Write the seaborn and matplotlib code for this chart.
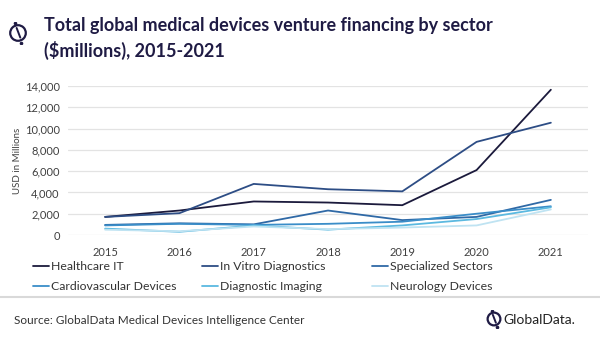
import matplotlib
matplotlib.use("Agg")
import matplotlib.pyplot as plt
import seaborn as sns
import pandas as pd
from matplotlib.patches import Circle
from matplotlib.lines import Line2D

years = ["2015", "2016", "2017", "2018", "2019", "2020", "2021"]
healthcare_it = [1700, 2300, 3150, 3050, 2800, 6100, 13650]
in_vitro = [1700, 2050, 4800, 4300, 4100, 8750, 10550]
specialized = [950, 1100, 1000, 2300, 1400, 1700, 3300]
cardiovascular = [900, 1050, 950, 1050, 1250, 2000, 2700]
diagnostic_imaging = [600, 300, 900, 500, 900, 1500, 2600]
neurology = [500, 350, 800, 550, 700, 900, 2400]

series_names = ["Healthcare IT", "In Vitro Diagnostics", "Specialized Sectors",
                "Cardiovascular Devices", "Diagnostic Imaging", "Neurology Devices"]
series_vals = [healthcare_it, in_vitro, specialized, cardiovascular, diagnostic_imaging, neurology]
colors = ["#1b1a3c", "#2d4d85", "#2f69a6", "#3a8dc8", "#5bb9e0", "#bfe3f2"]

rows = []
for name, vals in zip(series_names, series_vals):
    for i, (y, v) in enumerate(zip(years, vals)):
        rows.append({"idx": i, "year": y, "value": v, "sector": name})
df = pd.DataFrame(rows)

sns.set_theme(style="white")
plt.rcParams["font.family"] = ["Lato", "DejaVu Sans"]

fig = plt.figure(figsize=(6, 3.38), dpi=100)
ax = fig.add_axes([68/600, 1-235/338, (588-68)/600, (235-86)/338])

sns.lineplot(data=df, x="idx", y="value", hue="sector", hue_order=series_names,
             palette=colors, linewidth=1.3, ax=ax, legend=False, sort=False)

ax.set_xlim(-0.5, 6.5)
ax.set_ylim(0, 14000)
ax.set_xticks(range(len(years)))
ax.set_xticklabels(years)
ax.set_yticks(range(0, 14001, 2000))
ax.set_yticklabels([f"{v:,}" for v in range(0, 14001, 2000)])
ax.tick_params(axis="both", labelsize=8, colors="#404040", length=0, pad=6)
ax.tick_params(axis="x", pad=9)
ax.grid(axis="y", color="#e3e3e3", linewidth=0.9)
ax.set_axisbelow(True)
for s in ax.spines.values():
    s.set_visible(False)
ax.set_xlabel("")
ax.set_ylabel("USD in Millions", fontsize=7, color="#404040", labelpad=2)

# Legend: three columns, row-major order as in the reference
col_x = [28, 197, 367]
for c in range(3):
    idxs = [c, c + 3]
    hs = [Line2D([0], [0], color=colors[i], lw=1.3) for i in idxs]
    ls = [series_names[i] for i in idxs]
    leg = fig.legend(hs, ls, loc="upper left", bbox_to_anchor=(col_x[c]/600, 1-256/338),
                     frameon=False, fontsize=8.8, handlelength=1.3, handletextpad=0.15,
                     labelspacing=0.75, borderaxespad=0)
    for t in leg.get_texts():
        t.set_color("#333333")

# Title
fig.text(44/600, 1-26/338, "Total global medical devices venture financing by sector",
         fontsize=13, fontweight="bold", color="#1f1b44", va="center", ha="left")
fig.text(44/600, 1-50/338, "($millions), 2015-2021",
         fontsize=13, fontweight="bold", color="#1f1b44", va="center", ha="left")

def logo(x0, y0, size):
    lax = fig.add_axes([x0/600, 1-(y0+size)/338, size/600, size/338])
    lax.set_xlim(-1.2, 1.2)
    lax.set_ylim(-1.2, 1.2)
    lax.set_aspect("equal")
    lax.axis("off")
    lax.add_patch(Circle((0, 0), 0.85, fill=False, lw=1.6, color="#1f1b44"))
    lax.plot([-0.15, 0.25], [0.55, -0.5], color="#1f1b44", lw=1.4)
    lax.plot([-0.3], [1.1], "o", ms=1.6, color="#1f1b44")
    lax.plot([0.35], [-1.05], "o", ms=1.6, color="#1f1b44")

logo(7, 22, 22)

# separator line
fig.add_artist(Line2D([0, 1], [1-297/338, 1-297/338], color="#d9d9d9", lw=1.5))

fig.text(14/600, 1-320/338, "Source: GlobalData Medical Devices Intelligence Center",
         fontsize=8.5, color="#333333", va="center", ha="left")

logo(485, 310, 18)
fig.text(503/600, 1-320/338, "GlobalData.", fontsize=10, color="#222222",
         va="center", ha="left")

fig.savefig("out.png", dpi=100, facecolor="white")
